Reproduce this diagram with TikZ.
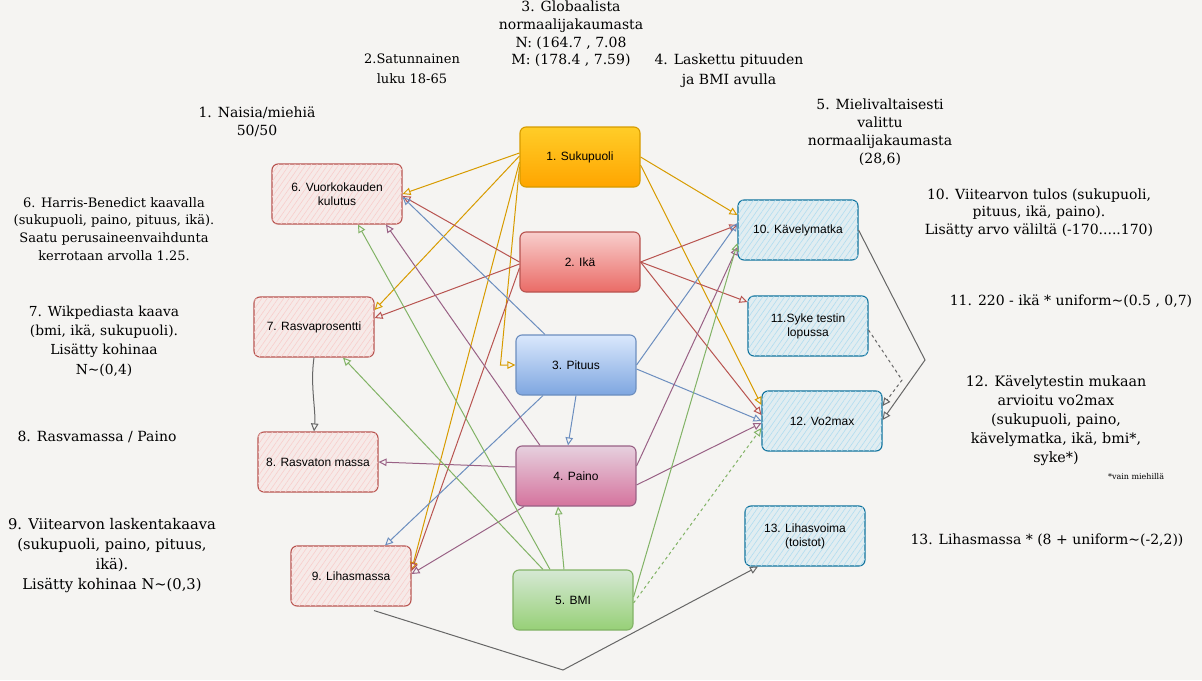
\documentclass[tikz,border=0pt]{standalone}
\usepackage{fontspec}
\setmainfont{DejaVu Serif}
\setsansfont{Liberation Sans}
\usetikzlibrary{arrows.meta,patterns.meta,calc}
\definecolor{bgc}{HTML}{F5F4F2}
\definecolor{orT}{HTML}{FFCD28}\definecolor{orB}{HTML}{FFA500}\definecolor{orD}{HTML}{D79B00}
\definecolor{reT}{HTML}{F8CECC}\definecolor{reB}{HTML}{EA6B66}\definecolor{reD}{HTML}{B85450}
\definecolor{blT}{HTML}{DAE8FC}\definecolor{blB}{HTML}{7EA6E0}\definecolor{blD}{HTML}{6C8EBF}
\definecolor{piT}{HTML}{E6D0DE}\definecolor{piB}{HTML}{D5739D}\definecolor{piD}{HTML}{996185}
\definecolor{grT}{HTML}{D5E8D4}\definecolor{grB}{HTML}{97D077}\definecolor{grD}{HTML}{82B366}
\definecolor{hbl}{HTML}{B1DDF0}\definecolor{hblD}{HTML}{10739E}
\definecolor{gry}{HTML}{666666}
\begin{document}
\begin{tikzpicture}[x=1pt,y=-1pt,
  box/.style={rounded corners=6pt, minimum width=120pt, minimum height=60pt, line width=1.1pt,
    font=\sffamily\fontsize{12}{14}\selectfont, align=center, inner sep=2pt},
  obox/.style={box, draw=orD, top color=orT, bottom color=orB},
  rbox/.style={box, draw=reD, top color=reT, bottom color=reB},
  bbox/.style={box, draw=blD, top color=blT, bottom color=blB},
  pbox/.style={box, draw=piD, top color=piT, bottom color=piB},
  gbox/.style={box, draw=grD, top color=grT, bottom color=grB},
  hrbox/.style={box, draw=reD, fill=reT!25!bgc,
    postaction={pattern={Lines[angle=55,distance=4.5pt,line width=0.6pt]}, pattern color=reT}},
  hbbox/.style={box, draw=hblD, fill=hbl!30!bgc,
    postaction={pattern={Lines[angle=55,distance=4.5pt,line width=0.6pt]}, pattern color=hbl}},
  note/.style={align=center, inner sep=0pt, font=\fontsize{14}{17.7}\selectfont},
  e/.style={-{Triangle[open,length=8pt,width=7.5pt]}, line width=1pt},
  eo/.style={e, draw=orD},
  er/.style={e, draw=reD},
  eb/.style={e, draw=blD},
  ep/.style={e, draw=piD},
  eg/.style={e, draw=grD},
  ek/.style={e, draw=gry},
]
\fill[bgc] (0,0) rectangle (1202,680);
\useasboundingbox (0,0) rectangle (1202,680);

% source nodes
\node[obox] (n1) at (580,157) {1. Sukupuoli};
\node[rbox] (n2) at (580,262) {2. Ikä};
\node[bbox] (n3) at (576,365) {3. Pituus};
\node[pbox] (n4) at (576,476) {4. Paino};
\node[gbox] (n5) at (573,600) {5. BMI};
% derived nodes
\node[hrbox, minimum width=130pt] (n6) at (337,194) {6. Vuorkokauden\\kulutus};
\node[hrbox] (n7) at (314,327) {7. Rasvaprosentti};
\node[hrbox] (n8) at (318,462) {8. Rasvaton massa};
\node[hrbox] (n9) at (351,576) {9. Lihasmassa};
\node[hbbox] (n10) at (798,230) {10. Kävelymatka};
\node[hbbox] (n11) at (808,326) {11.Syke testin\\lopussa};
\node[hbbox] (n12) at (822,421) {12. Vo2max};
\node[hbbox] (n13) at (805,536) {13. Lihasvoima\\(toistot)};

% annotations
\node[note] (t1) at (257,122) {1. Naisia/miehiä\\50/50};
\node[note, font=\fontsize{13}{20}\selectfont] (t2) at (412,69) {2.Satunnainen\\luku 18-65};
\node[note] (t3) at (571,34) {3. Globaalista\\normaalijakaumasta\\N: (164.7 , 7.08\\M: (178.4 , 7.59)};
\node[note, font=\fontsize{14}{20}\selectfont] (t4) at (729,71) {4. Laskettu pituuden\\ja BMI avulla};
\node[note, font=\fontsize{14}{18}\selectfont] (t5) at (880,132) {5. Mielivaltaisesti\\valittu\\normaalijakaumasta\\(28,6)};
\node[note, font=\fontsize{13}{17.7}\selectfont] (t6) at (114,229) {6. Harris-Benedict kaavalla\\(sukupuoli, paino, pituus, ikä).\\Saatu perusaineenvaihdunta\\kerrotaan arvolla 1.25.};
\node[note, font=\fontsize{13.8}{19.4}\selectfont] (t7) at (104,341) {7. Wikpediasta kaava\\(bmi, ikä, sukupuoli).\\Lisätty kohinaa\\N\textasciitilde(0,4)};
\node[note] (t8) at (97,437) {8. Rasvamassa / Paino};
\node[note, font=\fontsize{14.7}{20}\selectfont] (t9) at (112,556) {9. Viitearvon laskentakaava\\(sukupuoli, paino, pituus,\\ikä).\\Lisätty kohinaa N\textasciitilde(0,3)};
\node[note, font=\fontsize{14}{17.5}\selectfont] (t10) at (1039,213) {10. Viitearvon tulos (sukupuoli,\\pituus, ikä, paino).\\Lisätty arvo väliltä (-170.....170)};
\node[note] (t11) at (1071,301) {11. 220 - ikä * uniform\textasciitilde(0.5 , 0,7)};
\node[note, font=\fontsize{14.3}{19}\selectfont] (t12) at (1056,421) {12. Kävelytestin mukaan\\arvioitu vo2max\\(sukupuoli, paino,\\kävelymatka, ikä, bmi*,\\syke*)};
\node[inner sep=0pt, font=\fontsize{8}{9}\selectfont] (t12b) at (1136,476) {*vain miehillä};
\node[note] (t13) at (1047,540) {13. Lihasmassa * (8 + uniform\textasciitilde(-2,2))};

% from 1. Sukupuoli
\draw[eo] ([yshift=4pt]n1.west) -- (n6.east);
\draw[eo] ([yshift=1pt]n1.west) -- ([yshift=17pt]n7.east);
\draw[eo] ([yshift=-10pt]n1.west) -- ([xshift=-15pt]n3.west) -- (n3.west);
\draw[eo] ([yshift=-5pt]n1.west) -- ([yshift=6pt]n9.east);
\draw[eo] (n1.east) -- ([yshift=15pt]n10.west);
\draw[eo] ([yshift=-8pt]n1.east) -- ([yshift=16pt]n12.west);
% from 2. Ika
\draw[er] (n2.west) -- ([yshift=-2pt]n6.east);
\draw[er] ([yshift=-2pt]n2.west) -- ([yshift=9pt]n7.east);
\draw[er] ([yshift=-6pt]n2.west) -- ([yshift=5pt]n9.east);
\draw[er] (n2.east) -- ([yshift=5pt]n10.west);
\draw[er] (n2.east) -- ([yshift=24pt]n11.west);
\draw[er] (n2.east) -- ([yshift=6pt]n12.west);
% from 3. Pituus
\draw[eb] ([xshift=-31pt]n3.north) -- ([yshift=-3pt]n6.east);
\draw[eb] (n3.south) -- ([xshift=-8pt]n4.north);
\draw[eb] ([xshift=-33pt]n3.south) -- ([xshift=34pt]n9.north);
\draw[eb] (n3.east) -- ([yshift=7pt]n10.west);
\draw[eb] ([yshift=-4pt]n3.east) -- (n12.west);
% from 4. Paino
\draw[ep] ([xshift=-36pt]n4.north) -- ([xshift=49pt]n6.south);
\draw[ep] ([yshift=9pt]n4.west) -- (n8.east);
\draw[ep] ([xshift=-52pt]n4.south) -- ([yshift=2pt]n9.east);
\draw[ep] ([yshift=10pt]n4.east) -- ([yshift=-17pt]n10.west);
\draw[ep] ([yshift=-9pt]n4.east) -- ([yshift=-2pt]n12.west);
% from 5. BMI
\draw[eg] ([xshift=-23pt]n5.north) -- ([xshift=21pt]n6.south);
\draw[eg] ([xshift=-30pt]n5.north) -- ([xshift=29pt]n7.south);
\draw[eg] ([xshift=-9pt]n5.north) -- ([xshift=-18pt]n4.south);
\draw[eg] ([yshift=3pt]n5.east) -- ([yshift=-13pt]n10.west);
\draw[eg, dashed] ([yshift=-3pt]n5.east) -- ([yshift=-7pt]n12.west);
% grey
\draw[ek] (n7.south) .. controls (310,385) and (316,410) .. ([xshift=-4pt]n8.north);
\coordinate (b1) at (925,360);
\draw[ek] (n10.east) -- (b1) -- ([yshift=1pt]n12.east);
\coordinate (b2) at (902,380);
\draw[ek, dashed] ([yshift=-4pt]n11.east) -- (b2) -- ([yshift=15pt]n12.east);
\coordinate (b3) at (563,670);
\draw[ek] ([xshift=23pt,yshift=-4pt]n9.south) -- (b3) -- ([xshift=-47pt]n13.south);
\end{tikzpicture}
\end{document}
